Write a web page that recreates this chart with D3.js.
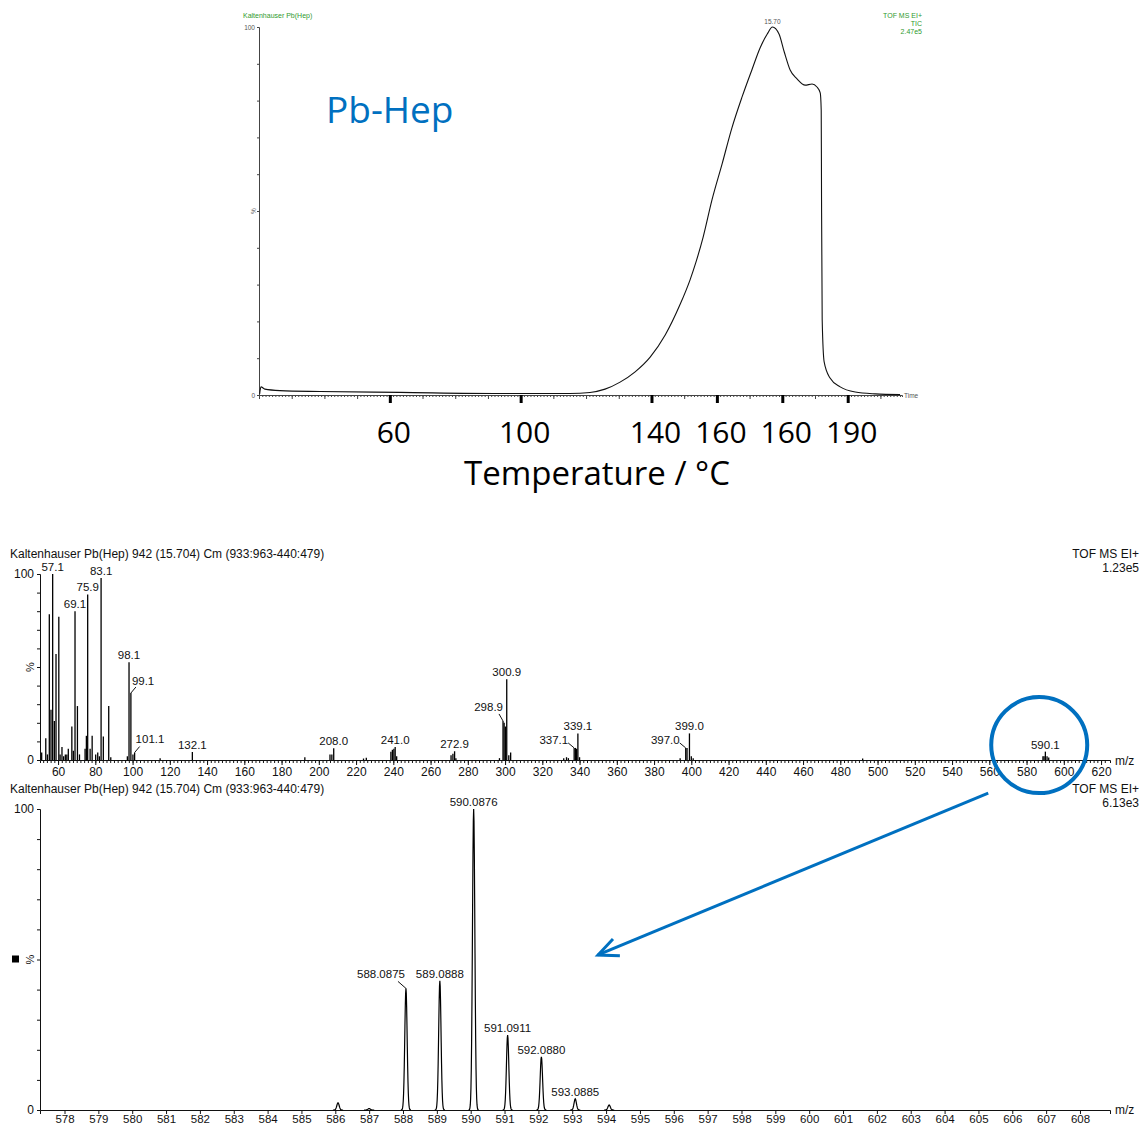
<!DOCTYPE html>
<html>
<head>
<meta charset="utf-8">
<script src="https://cdn.jsdelivr.net/npm/d3@7"></script>
<style>
  body { margin: 0; background: #fff; }
  svg { display: block; font-family: "Liberation Sans", Arial, sans-serif; }
</style>
</head>
<body>
<svg id="chart" width="1141" height="1126"></svg>
<script>
// TIC trace: retention time (min) and % of max
const ticTime = [0.02, 0.06, 0.18, 0.64, 1.87, 4.31, 7.37, 9.51, 10.12, 10.58, 11.04, 11.50, 11.96, 12.42, 12.87, 13.18, 13.36, 13.58, 13.85, 14.16, 14.46, 14.77, 15.08, 15.32, 15.54, 15.70, 15.90, 16.06, 16.24, 16.45, 16.70, 16.91, 17.06, 17.16, 17.19, 17.20, 17.22, 17.28, 17.46, 17.77, 18.23, 18.84, 19.60];
const ticPct = [0.3, 2.2, 1.6, 1.2, 0.95, 0.7, 0.4, 0.4, 0.7, 1.6, 3.5, 6.3, 10.3, 16.3, 24.5, 31.3, 36.1, 42.9, 53.0, 62.8, 72.6, 81.0, 88.6, 94.3, 98.1, 100, 98.1, 93.2, 88.3, 85.9, 84.2, 84.5, 83.7, 82.1, 77.4, 53.0, 20.4, 9.0, 4.6, 2.2, 0.8, 0.3, 0.1];
const ticApex = 15.70;
// times where the temperature was marked, and the temperatures written under them
const tempTimes = [4, 8, 12, 14, 16, 18];
const tempLabels = ["60", "100", "140", "160", "160", "190"];

// full EI spectrum at scan 942 (m/z, % base peak)
const specMz = [51.2, 53.4, 54.3, 55.3, 56.2, 57.1, 58.0, 58.9, 60.4, 61.1, 62.1, 63.0, 63.9, 64.7, 65.5, 67.4, 68.2, 69.1, 70.4, 71.5, 74.5, 75.2, 75.9, 77.2, 78.3, 80.2, 81.3, 82.2, 83.1, 84.3, 87.2, 88.3, 97.2, 98.1, 99.1, 100.2, 101.1, 114.8, 132.1, 192.5, 206.0, 207.0, 208.0, 224.0, 225.5, 238.7, 239.5, 240.3, 241.0, 241.8, 271.0, 272.0, 272.9, 273.6, 297.0, 298.9, 299.5, 300.2, 300.9, 302.0, 303.0, 331.5, 333.0, 334.0, 337.1, 337.8, 338.4, 339.1, 340.0, 394.0, 397.0, 397.7, 399.0, 400.0, 401.0, 492.0, 588.8, 589.4, 590.1, 591.0, 591.9];
const specPct = [4, 11.7, 3, 78.4, 27, 100, 21, 57, 77, 3, 7, 2, 3, 3, 6, 18, 5, 80, 29, 3, 6, 13, 89, 6, 13, 3, 4, 2, 97.8, 12.6, 29, 1.5, 2, 52.6, 36, 3, 4, 1, 4.3, 1.5, 3, 3, 6.3, 0.8, 1.2, 4.5, 5.5, 6, 7, 2, 2.5, 3.3, 4.7, 1, 1, 21, 20, 18, 43.4, 2.5, 4, 1, 1.5, 1, 6.5, 6.5, 6, 14.3, 1.5, 1, 6.5, 6.5, 14.3, 2, 1, 0.8, 2, 2, 4.5, 2, 1.3];
const specLabels = ["57.1", "69.1", "75.9", "83.1", "98.1", "99.1", "101.1", "132.1", "208.0", "241.0", "272.9", "298.9", "300.9", "337.1", "339.1", "397.0", "399.0", "590.1"];

// zoom on the molecular ion isotope pattern
const isoMz = [586.08, 587.0, 588.0875, 589.0888, 590.0876, 591.0911, 592.0880, 593.0885, 594.09];
const isoPct = [2.4, 0.5, 40.4, 42.9, 100, 24.9, 17.7, 3.7, 1.7];
const isoLabels = ["588.0875", "589.0888", "590.0876", "591.0911", "592.0880", "593.0885"];

const title = "Kaltenhauser Pb(Hep) 942 (15.704) Cm (933:963-440:479)";

// label placement: which labels sit to one side with a leader line
const labelLayout = {
  "99.1":     { anchor: "start", dx: 1,  dy: -8,  lx: 5,  ly: -6 },
  "101.1":    { anchor: "start", dx: 1,  dy: -10, lx: 5,  ly: -6 },
  "298.9":    { anchor: "end",   dx: 0,  dy: -10, lx: -4, ly: -7 },
  "337.1":    { anchor: "end",   dx: -6, dy: -4,  lx: -6, ly: -5 },
  "397.0":    { anchor: "end",   dx: -6, dy: -4,  lx: -6, ly: -5 },
  "588.0875": { anchor: "end",   dx: -1, dy: -10, lx: -8, ly: -7 }
};

const svg = d3.select("#chart");
const blue = "#0070c0";
const green = "#2f9a2f";

function styleAxis(g, col) {
  g.select(".domain").attr("stroke", col);
  g.selectAll(".tick line").attr("stroke", col);
  g.selectAll(".tick text").attr("fill", "#111");
}

// ---------- top: TIC ----------
const xT = d3.scaleLinear().domain([0, 19.66]).range([259, 902]);
const yT = d3.scaleLinear().domain([0, 100]).range([395, 27]);
const ticG = svg.append("g");

ticG.append("g").attr("transform", "translate(0,395)")
  .call(d3.axisBottom(xT).tickValues(d3.range(0, 19.66, 0.1)).tickSize(2).tickFormat(""))
  .call(g => styleAxis(g, "#444"));
ticG.append("g").attr("transform", "translate(0,395)")
  .call(d3.axisBottom(xT).tickValues(d3.range(0, 19.66, 1)).tickSize(4).tickFormat(""))
  .call(g => g.select(".domain").remove())
  .call(g => g.selectAll(".tick line").attr("stroke", "#444"));
ticG.append("g").attr("transform", "translate(0,395)")
  .call(d3.axisBottom(xT).tickValues(tempTimes).tickSize(8).tickFormat(""))
  .call(g => g.select(".domain").remove())
  .call(g => g.selectAll(".tick line").attr("stroke", "#000").attr("stroke-width", 3));

ticG.append("g").attr("transform", "translate(259,0)")
  .call(d3.axisLeft(yT).tickValues(d3.range(0, 101, 10)).tickSize(2)
    .tickFormat(d => (d === 0 || d === 100) ? d : ""))
  .call(g => styleAxis(g, "#444"))
  .call(g => g.selectAll(".tick text").attr("font-size", 6.5).attr("fill", "#555").attr("dx", 1));

ticG.append("text").attr("transform", `translate(${256},${yT(50)}) rotate(-90)`)
  .attr("text-anchor", "middle").attr("font-size", 6.5).attr("fill", "#555").text("%");

const ticData = ticTime.map((t, i) => [t, ticPct[i]]);
ticG.append("path").datum(ticData)
  .attr("fill", "none").attr("stroke", "#111").attr("stroke-width", 1.1)
  .attr("d", d3.line().x(d => xT(d[0])).y(d => yT(d[1])).curve(d3.curveMonotoneX));

ticG.append("text").attr("x", xT(ticApex)).attr("y", yT(100) - 3)
  .attr("text-anchor", "middle").attr("font-size", 6.5).attr("fill", "#555").text(ticApex.toFixed(2));
ticG.append("text").attr("x", 904).attr("y", 398).attr("font-size", 6.5).attr("fill", "#555").text("Time");

ticG.append("text").attr("x", 243).attr("y", 18).attr("font-size", 7).attr("fill", green).text("Kaltenhauser Pb(Hep)");
["TOF MS EI+", "TIC", "2.47e5"].forEach((s, i) => {
  ticG.append("text").attr("x", 922).attr("y", 18 + i * 8).attr("text-anchor", "end")
    .attr("font-size", 7).attr("fill", green).text(s);
});

ticG.append("text").attr("x", 326).attr("y", 123).attr("font-family", "'Open Sans', sans-serif")
  .attr("font-size", 37).attr("fill", blue).text("Pb-Hep");

ticG.selectAll(".temp").data(tempTimes).join("text")
  .attr("x", d => xT(d) + 4).attr("y", 443).attr("text-anchor", "middle")
  .attr("font-family", "'Open Sans', sans-serif").attr("font-size", 30).attr("fill", "#000")
  .text((d, i) => tempLabels[i]);
ticG.append("text").attr("x", 597).attr("y", 485).attr("text-anchor", "middle")
  .attr("font-family", "'Open Sans', sans-serif").attr("font-size", 33).attr("fill", "#000")
  .text("Temperature / °C");

// ---------- shared spectrum helpers ----------
function header(y, right) {
  svg.append("text").attr("x", 10).attr("y", y).attr("font-size", 12).attr("fill", "#111").text(title);
  right.forEach((s, i) => {
    svg.append("text").attr("x", 1139).attr("y", y + i * 14).attr("text-anchor", "end")
      .attr("font-size", 12).attr("fill", "#111").text(s);
  });
}

function yAxis(g, y, x0) {
  g.append("g").attr("transform", `translate(${x0},0)`)
    .call(d3.axisLeft(y).tickValues(d3.range(0, 101, 10)).tickSize(3)
      .tickFormat(d => (d === 0 || d === 100) ? d : ""))
    .call(a => styleAxis(a, "#111"))
    .call(a => a.selectAll(".tick text").attr("font-size", 12));
  g.append("text").attr("transform", `translate(${x0 - 6},${y(50)}) rotate(-90)`)
    .attr("text-anchor", "middle").attr("font-size", 11).attr("fill", "#111").text("%");
}

function peakLabel(g, text, px, py) {
  const lay = labelLayout[text] || { anchor: "middle", dx: 0, dy: -3 };
  g.append("text").attr("x", px + lay.dx).attr("y", py + lay.dy)
    .attr("text-anchor", lay.anchor).attr("font-size", 11.5).attr("fill", "#111").text(text);
  if (lay.lx !== undefined) {
    g.append("line").attr("x1", px).attr("y1", py).attr("x2", px + lay.lx).attr("y2", py + lay.ly)
      .attr("stroke", "#111").attr("stroke-width", 1);
  }
}

// ---------- middle: full spectrum ----------
const xM = d3.scaleLinear().domain([50.3, 624.8]).range([40, 1110]);
const yM = d3.scaleLinear().domain([0, 100]).range([760, 574]);
const midG = svg.append("g");
header(558, ["TOF MS EI+", "1.23e5"]);

midG.append("g").attr("transform", "translate(0,760)")
  .call(d3.axisBottom(xM).tickValues(d3.range(52, 624, 2)).tickSize(3).tickFormat(""))
  .call(g => styleAxis(g, "#111"));
midG.append("g").attr("transform", "translate(0,760)")
  .call(d3.axisBottom(xM).tickValues(d3.range(60, 621, 20)).tickSize(5).tickPadding(2))
  .call(g => g.select(".domain").remove())
  .call(g => g.selectAll(".tick line").attr("stroke", "#111"))
  .call(g => g.selectAll(".tick text").attr("font-size", 12).attr("fill", "#111"));
midG.append("text").attr("x", 1115).attr("y", 765).attr("font-size", 12).attr("fill", "#111").text("m/z");
yAxis(midG, yM, 40);

midG.selectAll(".bar").data(specMz).join("line")
  .attr("x1", d => xM(d)).attr("x2", d => xM(d))
  .attr("y1", yM(0)).attr("y2", (d, i) => yM(specPct[i]))
  .attr("stroke", "#000").attr("stroke-width", 1.3);

specLabels.forEach(s => {
  const i = specMz.indexOf(+s);
  peakLabel(midG, s, xM(specMz[i]), yM(specPct[i]));
});

// ---------- bottom: isotope pattern ----------
const xB = d3.scaleLinear().domain([577.276, 608.887]).range([40, 1110]);
const yB = d3.scaleLinear().domain([0, 100]).range([1110, 809]);
const botG = svg.append("g");
header(793, ["TOF MS EI+", "6.13e3"]);

botG.append("g").attr("transform", "translate(0,1110)")
  .call(d3.axisBottom(xB).tickValues(d3.range(578, 609, 1)).tickSize(4).tickPadding(1))
  .call(g => styleAxis(g, "#111"))
  .call(g => g.selectAll(".tick text").attr("font-size", 11.5));
botG.append("text").attr("x", 1115).attr("y", 1114).attr("font-size", 12).attr("fill", "#111").text("m/z");
yAxis(botG, yB, 40);
botG.append("rect").attr("x", 12).attr("y", yB(50) - 4).attr("width", 7).attr("height", 7).attr("fill", "#000");

const sigma = 0.035;
const profile = d3.line().x(d => xB(d[0])).y(d => yB(d[1]));
isoMz.forEach((m, i) => {
  const pts = d3.range(-0.15, 0.1501, 0.01).map(o => [m + o, isoPct[i] * Math.exp(-o * o / (2 * sigma * sigma))]);
  botG.append("path").datum(pts).attr("fill", "none").attr("stroke", "#000").attr("stroke-width", 1.2).attr("d", profile);
});
isoLabels.forEach(s => {
  const i = isoMz.indexOf(+s);
  peakLabel(botG, s, xB(isoMz[i]), yB(isoPct[i]));
});

// ---------- blue annotation: circle on the 590 cluster + arrow to the zoom ----------
const cx = xM(586.8), cy = yM(8);
svg.append("circle").attr("cx", cx).attr("cy", cy).attr("r", 48)
  .attr("fill", "none").attr("stroke", blue).attr("stroke-width", 4);
const a0 = [cx - 51, cy + 48], a1 = [xB(593.76), yB(51.5)];
svg.append("line").attr("x1", a0[0]).attr("y1", a0[1]).attr("x2", a1[0]).attr("y2", a1[1])
  .attr("stroke", blue).attr("stroke-width", 3);
const len = Math.hypot(a1[0] - a0[0], a1[1] - a0[1]);
const ux = (a1[0] - a0[0]) / len, uy = (a1[1] - a0[1]) / len;
const head = [
  [a1[0] - ux * 20 - uy * 9, a1[1] - uy * 20 + ux * 9],
  a1,
  [a1[0] - ux * 20 + uy * 9, a1[1] - uy * 20 - ux * 9]
];
svg.append("path").attr("d", d3.line()(head)).attr("fill", "none")
  .attr("stroke", blue).attr("stroke-width", 3).attr("stroke-linejoin", "miter");
</script>
</body>
</html>
